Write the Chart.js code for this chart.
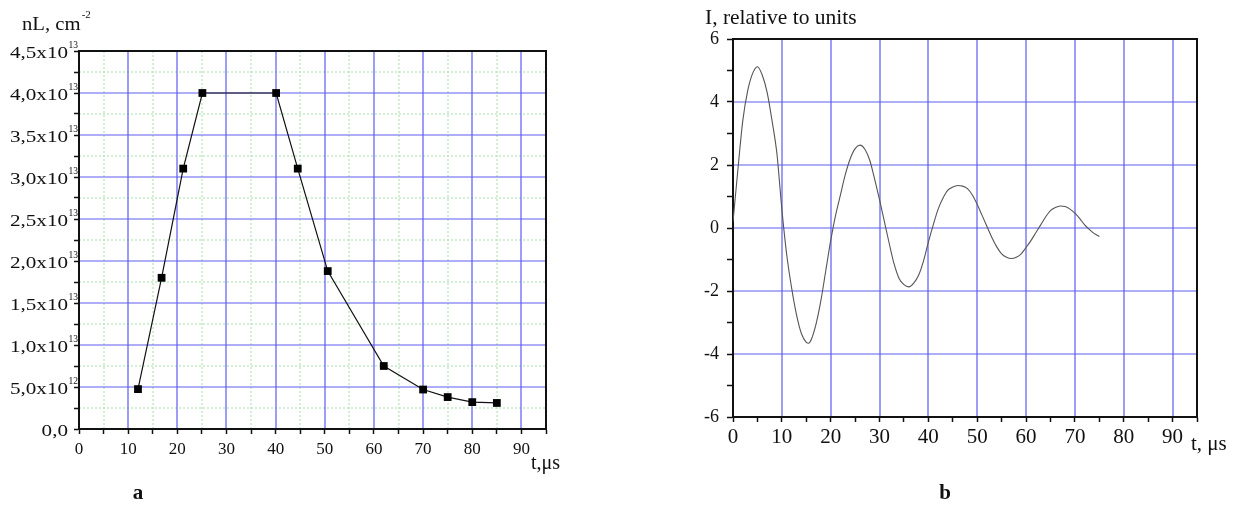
<!DOCTYPE html>
<html><head><meta charset="utf-8">
<script src="https://cdn.jsdelivr.net/npm/chart.js@4.4.0/dist/chart.umd.min.js"></script>
<style>
html,body{margin:0;padding:0;background:#fff;}
#wrap{position:relative;width:1234px;height:510px;overflow:hidden;background:#fff}
canvas{position:absolute;top:0}
#cA{left:0} #cB{left:617px}
</style></head><body>
<div id="wrap"><canvas id="cA" width="617" height="510"></canvas><canvas id="cB" width="617" height="510"></canvas></div>
<script>
// ---- panel a: line density nL vs time ----
const densityTimes  = [12, 16.8, 21.2, 25.1, 40.1, 44.5, 50.6, 62, 70, 75, 80, 85];
const densityValues = [4.75e12, 1.8e13, 3.1e13, 4.0e13, 4.0e13, 3.1e13, 1.88e13, 7.5e12, 4.7e12, 3.8e12, 3.2e12, 3.1e12];
const densityTickValues = [0, 5e12, 1e13, 1.5e13, 2e13, 2.5e13, 3e13, 3.5e13, 4e13, 4.5e13];
const densityTickLabels = ['0,0', '5,0x10^12', '1,0x10^13', '1,5x10^13', '2,0x10^13', '2,5x10^13', '3,0x10^13', '3,5x10^13', '4,0x10^13', '4,5x10^13'];
// ---- panel b: current I vs time ----
const currentTimes  = [0,1,2,3,4,5,6,7,8,9,10,11,12,13,14,15,15.5,16,17,18,19,20,21,22,23,24,25,26,27,28,29,30,31,32,33,34,35,36,37,38,39,40,41,42,43,44,45,46,47,48,49,50,51,52,53,54,55,56,57,58,59,60,61,62,63,64,65,66,67,68,69,70,71,72,73,74,75];
const currentValues = [0.2,1.85,3.4,4.35,4.9,5.12,4.85,4.3,3.4,2.35,0.6,-0.85,-1.9,-2.75,-3.35,-3.63,-3.66,-3.55,-3.05,-2.3,-1.35,-0.4,0.4,1.05,1.7,2.2,2.52,2.63,2.5,2.15,1.55,0.9,0.2,-0.5,-1.15,-1.6,-1.8,-1.87,-1.75,-1.5,-1.05,-0.45,0.1,0.6,0.95,1.2,1.3,1.35,1.33,1.25,1.05,0.75,0.4,0.05,-0.3,-0.6,-0.82,-0.93,-0.97,-0.93,-0.82,-0.62,-0.4,-0.15,0.1,0.35,0.55,0.65,0.7,0.68,0.6,0.47,0.3,0.1,-0.05,-0.18,-0.27];
const currentTickLabels = ['-6','-4','-2','0','2','4','6'];
const timeTickLabels = ['0','10','20','30','40','50','60','70','80','90'];

const BLUE = 'rgb(92,92,242)';
const CLEAR = 'rgba(0,0,0,0)';
const SERIF = '"Liberation Serif", "Times New Roman", serif';

function stretchedText(ctx, txt, x, y, size, sx, align, weight) {
  ctx.save();
  ctx.font = (weight || '') + ' ' + size + 'px ' + SERIF;
  ctx.fillStyle = '#111';
  ctx.textBaseline = 'alphabetic';
  const w = ctx.measureText(txt).width * sx;
  let x0 = x;
  if (align === 'right') x0 = x - w; else if (align === 'center') x0 = x - w / 2;
  ctx.translate(x0, y); ctx.scale(sx, 1);
  ctx.textAlign = 'left';
  ctx.fillText(txt, 0, 0);
  ctx.restore();
  return w;
}

function frame(chart) {
  const a = chart.chartArea, ctx = chart.ctx;
  ctx.save();
  ctx.strokeStyle = '#111'; ctx.lineWidth = 2;
  ctx.beginPath();
  ctx.moveTo(a.left, a.top); ctx.lineTo(a.right, a.top); ctx.lineTo(a.right, a.bottom);
  ctx.stroke();
  ctx.restore();
}

function vline(ctx, a, px) { px = Math.round(px); ctx.beginPath(); ctx.moveTo(px, a.top); ctx.lineTo(px, a.bottom); ctx.stroke(); }
function hline(ctx, a, py) { py = Math.round(py); ctx.beginPath(); ctx.moveTo(a.left, py); ctx.lineTo(a.right, py); ctx.stroke(); }

// grid for panel a: dotted green minor + solid blue major
const gridA = {
  id: 'gridA',
  beforeDraw(chart) {
    const ctx = chart.ctx, a = chart.chartArea, xs = chart.scales.x, ys = chart.scales.y;
    ctx.save();
    ctx.lineWidth = 1.3;
    ctx.strokeStyle = 'rgb(188,230,188)'; ctx.setLineDash([2, 2]);
    xs.ticks.forEach(t => { if (t.value % 10 !== 0 && t.value < xs.max) vline(ctx, a, xs.getPixelForValue(t.value)); });
    ys.ticks.forEach(t => { if (Math.round(t.value / 2.5e12) % 2 === 1 && t.value < ys.max) hline(ctx, a, ys.getPixelForValue(t.value)); });
    ctx.setLineDash([]); ctx.strokeStyle = BLUE; ctx.lineWidth = 1.2;
    xs.ticks.forEach(t => { if (t.value % 10 === 0 && t.value > xs.min) vline(ctx, a, xs.getPixelForValue(t.value)); });
    ys.ticks.forEach(t => { if (Math.round(t.value / 2.5e12) % 2 === 0 && t.value > ys.min && t.value < ys.max) hline(ctx, a, ys.getPixelForValue(t.value)); });
    ctx.restore();
  }
};

const gridB = {
  id: 'gridB',
  beforeDraw(chart) {
    const ctx = chart.ctx, a = chart.chartArea, xs = chart.scales.x, ys = chart.scales.y;
    ctx.save();
    ctx.lineWidth = 1.2; ctx.strokeStyle = BLUE;
    xs.ticks.forEach(t => { if (t.value % 10 === 0 && t.value > xs.min) vline(ctx, a, xs.getPixelForValue(t.value)); });
    ys.ticks.forEach(t => { if (t.value % 2 === 0 && t.value > ys.min && t.value < ys.max) hline(ctx, a, ys.getPixelForValue(t.value)); });
    ctx.restore();
  }
};

const decorA = {
  id: 'decorA',
  afterDraw(chart) {
    const ctx = chart.ctx, ys = chart.scales.y;
    frame(chart);
    densityTickValues.forEach((v, i) => {
      const py = ys.getPixelForValue(v);
      const parts = densityTickLabels[i].split('^');
      stretchedText(ctx, parts[0], 68, py + 7, 16, 1.32, 'right');
      if (parts[1]) stretchedText(ctx, parts[1], 68.5, py - 3, 9.5, 1.0, 'left');
    });
    const w = stretchedText(ctx, 'nL, cm', 22, 30, 18, 1.15, 'left');
    stretchedText(ctx, '-2', 22 + w + 1, 18, 11, 1.0, 'left');
    stretchedText(ctx, 't,\u03bcs', 531, 469, 20, 1.0, 'left');
    stretchedText(ctx, 'a', 138, 499, 21, 1.0, 'center', 'bold');
  }
};

const decorB = {
  id: 'decorB',
  afterDraw(chart) {
    const ctx = chart.ctx;
    frame(chart);
    stretchedText(ctx, 'I, relative to units', 705 - 617, 24, 21.5, 1.0, 'left');
    stretchedText(ctx, 't, \u03bcs', 1191 - 617, 450, 21, 1.0, 'left');
    stretchedText(ctx, 'b', 945 - 617, 499, 21, 1.0, 'center', 'bold');
  }
};

new Chart(document.getElementById('cA'), {
  type: 'scatter',
  data: { datasets: [{
    data: densityTimes.map((t, i) => ({ x: t, y: densityValues[i] })),
    showLine: true, borderColor: '#111', borderWidth: 1.2,
    pointStyle: 'rect', pointRadius: 5.5, pointBackgroundColor: '#000', pointBorderColor: '#000', pointBorderWidth: 0
  }]},
  options: {
    responsive: false, animation: false, devicePixelRatio: 1,
    layout: { padding: { top: 51, right: 71, left: 0, bottom: 0 } },
    plugins: { legend: { display: false }, tooltip: { enabled: false } },
    scales: {
      x: {
        type: 'linear', min: 0, max: 95,
        afterFit: s => { s.height = 81; },
        ticks: { stepSize: 5, autoSkip: false, maxRotation: 0, padding: 5, color: '#111', font: { family: SERIF, size: 17 },
          callback: v => timeTickLabels.includes(String(v)) ? String(v) : '' },
        grid: { color: CLEAR, tickColor: '#111', tickLength: 5, tickWidth: 1.5, lineWidth: 1 },
        border: { color: '#111', width: 2 }
      },
      y: {
        type: 'linear', min: 0, max: 4.5e13,
        afterFit: s => { s.width = 79; },
        ticks: { stepSize: 2.5e12, autoSkip: false, padding: 4, callback: () => '' },
        grid: { color: CLEAR, tickColor: '#111', tickLength: 5, tickWidth: 1.5, lineWidth: 1 },
        border: { color: '#111', width: 2 }
      }
    }
  },
  plugins: [gridA, decorA]
});

new Chart(document.getElementById('cB'), {
  type: 'line',
  data: { datasets: [{
    data: currentTimes.map((t, i) => ({ x: t, y: currentValues[i] })),
    borderColor: '#555', borderWidth: 1.1, pointRadius: 0, cubicInterpolationMode: 'monotone', fill: false
  }]},
  options: {
    responsive: false, animation: false, devicePixelRatio: 1,
    layout: { padding: { top: 39, right: 37, left: 0, bottom: 0 } },
    plugins: { legend: { display: false }, tooltip: { enabled: false } },
    scales: {
      x: {
        type: 'linear', min: 0, max: 95,
        afterFit: s => { s.height = 93; },
        ticks: { stepSize: 5, autoSkip: false, maxRotation: 0, padding: 3, color: '#111', font: { family: SERIF, size: 21 },
          callback: v => timeTickLabels.includes(String(v)) ? String(v) : '' },
        grid: { color: CLEAR, tickColor: '#111', tickLength: 5, tickWidth: 1.5, lineWidth: 1 },
        border: { color: '#111', width: 2 }
      },
      y: {
        type: 'linear', min: -6, max: 6,
        afterFit: s => { s.width = 116; },
        ticks: { stepSize: 1, autoSkip: false, padding: 8, color: '#111', font: { family: SERIF, size: 18 },
          callback: v => currentTickLabels.includes(String(v)) ? String(v) : '' },
        grid: { color: CLEAR, tickColor: '#111', tickLength: 6, tickWidth: 1.5, lineWidth: 1 },
        border: { color: '#111', width: 2 }
      }
    }
  },
  plugins: [gridB, decorB]
});
</script>
</body></html>
